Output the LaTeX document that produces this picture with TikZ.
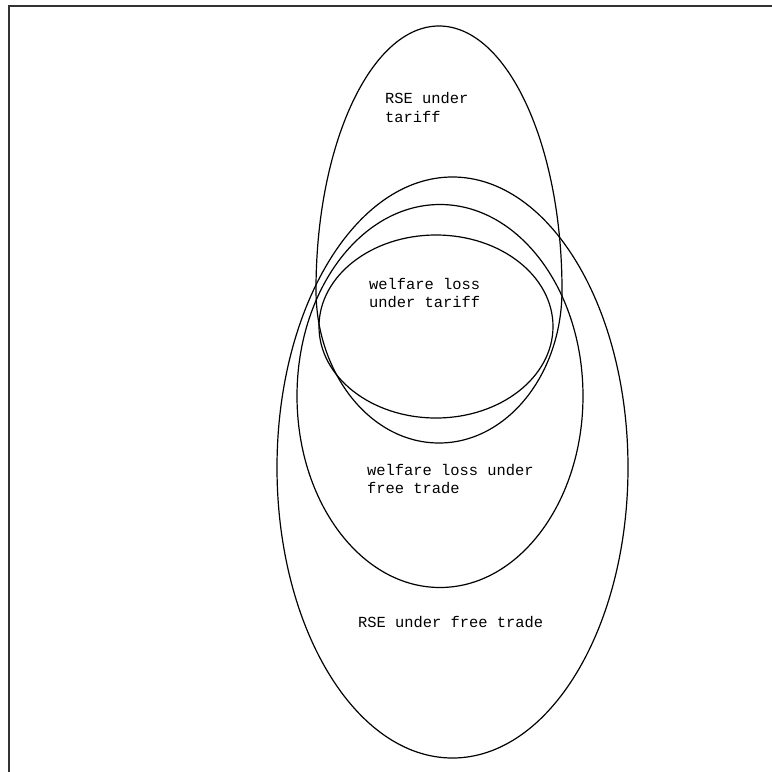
\documentclass[tikz,border=0pt]{standalone}
\usepackage{fontspec}
\newfontfamily\labfont{Liberation Mono}
\begin{document}
\begin{tikzpicture}[x=1pt,y=-1pt,
  setline/.style={draw=black,line width=1.2pt},
  framel/.style={draw=black!80,line width=2pt},
  lab/.style={anchor=base west,inner sep=0pt,font=\labfont\fontsize{15.4}{18}\selectfont}]
\useasboundingbox (0,0) rectangle (772,772);
% frame (top and left edges)
\draw[framel] (9,772) -- (9,6) -- (772,6);
% RSE under tariff (egg shaped: narrow top, rounder bottom)
\draw[setline] (316,290) arc[start angle=180, end angle=360, x radius=123, y radius=264]
  arc[start angle=0, end angle=180, x radius=123, y radius=153];
% welfare loss under tariff
\draw[setline] (436,326.5) ellipse [x radius=117, y radius=91.5];
% welfare loss under free trade
\draw[setline] (440,396) ellipse [x radius=143, y radius=191.5];
% RSE under free trade
\draw[setline] (452.5,467.5) ellipse [x radius=175.5, y radius=290.5];
% labels
\node[lab] (rsetA) at (385,103) {RSE under};
\node[lab] (rsetB) at (385,122) {tariff};
\node[lab] (wltA) at (369,289) {welfare loss};
\node[lab] (wltB) at (369,307) {under tariff};
\node[lab] (wlfA) at (367,475) {welfare loss under};
\node[lab] (wlfB) at (367,493) {free trade};
\node[lab] (rsef) at (358,627) {RSE under free trade};
\end{tikzpicture}
\end{document}
